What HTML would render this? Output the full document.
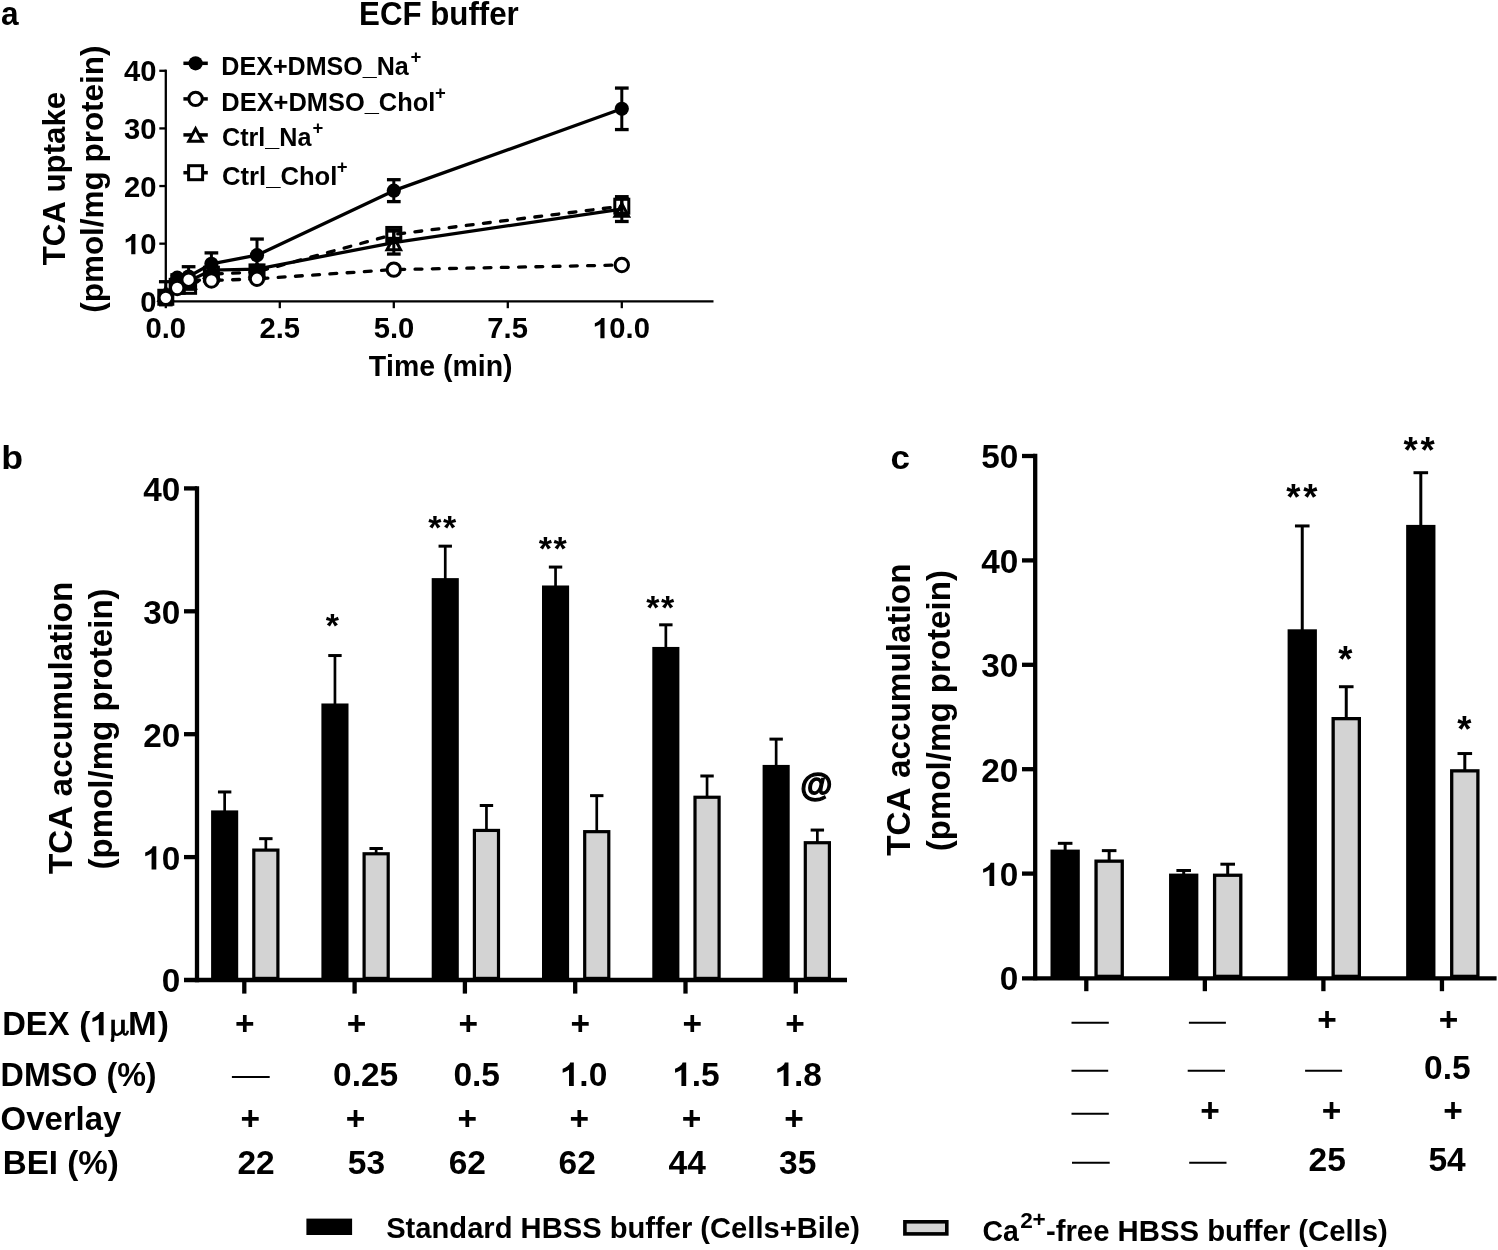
<!DOCTYPE html>
<html><head><meta charset="utf-8"><style>
html,body{margin:0;padding:0;background:#fff;}
body{width:1498px;height:1250px;overflow:hidden;}
svg{display:block;font-kerning:none;filter:blur(0.4px);}
text{font-kerning:none;}
</style></head><body>
<svg width="1498" height="1250" viewBox="0 0 1498 1250">
<rect width="1498" height="1250" fill="#fff"/>
<text transform="translate(1.08 24.60) scale(0.9300 1)" font-size="34.00" font-family='"Liberation Sans", sans-serif' font-weight="bold" fill="#000">a</text>
<text transform="translate(359.04 25.00) scale(0.9650 1)" font-size="32.40" font-family='"Liberation Sans", sans-serif' font-weight="bold" fill="#000">ECF buffer</text>
<line x1="165.80" y1="69.63" x2="165.80" y2="302.45" stroke="#000" stroke-width="2.30" stroke-linecap="butt"/>
<line x1="164.65" y1="301.30" x2="713.50" y2="301.30" stroke="#000" stroke-width="2.30" stroke-linecap="butt"/>
<line x1="159.30" y1="301.30" x2="165.80" y2="301.30" stroke="#000" stroke-width="2.30" stroke-linecap="butt"/>
<text transform="translate(140.23 311.94) scale(1.0000 1)" font-size="29.20" font-family='"Liberation Sans", sans-serif' font-weight="bold" fill="#000">0</text>
<line x1="159.30" y1="243.67" x2="165.80" y2="243.67" stroke="#000" stroke-width="2.30" stroke-linecap="butt"/>
<polygon points="135.41,254.31 135.41,233.93 132.26,233.93 131.64,235.33 129.83,237.09 127.79,238.40 125.69,239.28 125.69,242.75 128.08,241.82 129.83,240.94 131.23,240.07 131.23,254.31" fill="#000"/>
<text transform="translate(140.23 254.31) scale(1.0000 1)" font-size="29.20" font-family='"Liberation Sans", sans-serif' font-weight="bold" fill="#000">0</text>
<line x1="159.30" y1="186.04" x2="165.80" y2="186.04" stroke="#000" stroke-width="2.30" stroke-linecap="butt"/>
<text transform="translate(124.00 196.68) scale(1.0000 1)" font-size="29.20" font-family='"Liberation Sans", sans-serif' font-weight="bold" fill="#000">20</text>
<line x1="159.30" y1="128.41" x2="165.80" y2="128.41" stroke="#000" stroke-width="2.30" stroke-linecap="butt"/>
<text transform="translate(124.00 139.05) scale(1.0000 1)" font-size="29.20" font-family='"Liberation Sans", sans-serif' font-weight="bold" fill="#000">30</text>
<line x1="159.30" y1="70.78" x2="165.80" y2="70.78" stroke="#000" stroke-width="2.30" stroke-linecap="butt"/>
<text transform="translate(124.00 81.42) scale(1.0000 1)" font-size="29.20" font-family='"Liberation Sans", sans-serif' font-weight="bold" fill="#000">40</text>
<line x1="165.80" y1="301.30" x2="165.80" y2="308.20" stroke="#000" stroke-width="2.30" stroke-linecap="butt"/>
<text transform="translate(145.52 338.28) scale(1.0000 1)" font-size="29.20" font-family='"Liberation Sans", sans-serif' font-weight="bold" fill="#000">0.0</text>
<line x1="279.80" y1="301.30" x2="279.80" y2="308.20" stroke="#000" stroke-width="2.30" stroke-linecap="butt"/>
<text transform="translate(259.40 338.28) scale(1.0000 1)" font-size="29.20" font-family='"Liberation Sans", sans-serif' font-weight="bold" fill="#000">2.5</text>
<line x1="393.80" y1="301.30" x2="393.80" y2="308.20" stroke="#000" stroke-width="2.30" stroke-linecap="butt"/>
<text transform="translate(373.65 338.28) scale(1.0000 1)" font-size="29.20" font-family='"Liberation Sans", sans-serif' font-weight="bold" fill="#000">5.0</text>
<line x1="507.80" y1="301.30" x2="507.80" y2="308.20" stroke="#000" stroke-width="2.30" stroke-linecap="butt"/>
<text transform="translate(487.29 338.28) scale(1.0000 1)" font-size="29.20" font-family='"Liberation Sans", sans-serif' font-weight="bold" fill="#000">7.5</text>
<line x1="621.80" y1="301.30" x2="621.80" y2="308.20" stroke="#000" stroke-width="2.30" stroke-linecap="butt"/>
<polygon points="604.54,338.28 604.54,317.90 601.39,317.90 600.77,319.30 598.96,321.05 596.92,322.37 594.82,323.24 594.82,326.72 597.21,325.78 598.96,324.91 600.37,324.03 600.37,338.28" fill="#000"/>
<text transform="translate(609.36 338.28) scale(1.0000 1)" font-size="29.20" font-family='"Liberation Sans", sans-serif' font-weight="bold" fill="#000">0.0</text>
<text transform="translate(368.69 376.00) scale(0.9520 1)" font-size="29.90" font-family='"Liberation Sans", sans-serif' font-weight="bold" fill="#000">Time (min)</text>
<text transform="translate(65.20 265.34) rotate(-90) scale(1.0000 1)" font-size="31.24" font-family='"Liberation Sans", sans-serif' font-weight="bold">TCA uptake</text>
<text transform="translate(102.50 312.74) rotate(-90) scale(1.0000 1)" font-size="31.45" font-family='"Liberation Sans", sans-serif' font-weight="bold">(pmol/mg protein)</text>
<polyline points="165.80,295.54 177.20,277.67 188.60,276.52 211.40,263.84 257.00,255.20 393.80,190.65 621.80,108.82" fill="none" stroke="#000" stroke-width="3.30" stroke-linejoin="round"/>
<line x1="168.83" y1="295.24" x2="174.07" y2="290.74" stroke="#000" stroke-width="3.30" stroke-linecap="round"/>
<line x1="180.43" y1="285.68" x2="185.99" y2="281.60" stroke="#000" stroke-width="3.30" stroke-linecap="round"/>
<line x1="192.60" y1="279.84" x2="199.49" y2="280.10" stroke="#000" stroke-width="3.30" stroke-linecap="round"/>
<line x1="209.84" y1="280.49" x2="211.40" y2="280.55" stroke="#000" stroke-width="3.30" stroke-linecap="round"/>
<line x1="215.40" y1="280.40" x2="222.29" y2="280.14" stroke="#000" stroke-width="3.30" stroke-linecap="round"/>
<line x1="232.64" y1="279.75" x2="239.54" y2="279.49" stroke="#000" stroke-width="3.30" stroke-linecap="round"/>
<line x1="249.89" y1="279.09" x2="256.79" y2="278.83" stroke="#000" stroke-width="3.30" stroke-linecap="round"/>
<line x1="260.99" y1="278.56" x2="267.88" y2="278.09" stroke="#000" stroke-width="3.30" stroke-linecap="round"/>
<line x1="278.21" y1="277.39" x2="285.10" y2="276.93" stroke="#000" stroke-width="3.30" stroke-linecap="round"/>
<line x1="295.43" y1="276.23" x2="302.32" y2="275.77" stroke="#000" stroke-width="3.30" stroke-linecap="round"/>
<line x1="312.65" y1="275.07" x2="319.54" y2="274.61" stroke="#000" stroke-width="3.30" stroke-linecap="round"/>
<line x1="329.87" y1="273.91" x2="336.76" y2="273.45" stroke="#000" stroke-width="3.30" stroke-linecap="round"/>
<line x1="347.10" y1="272.75" x2="353.98" y2="272.29" stroke="#000" stroke-width="3.30" stroke-linecap="round"/>
<line x1="364.32" y1="271.59" x2="371.20" y2="271.13" stroke="#000" stroke-width="3.30" stroke-linecap="round"/>
<line x1="381.54" y1="270.43" x2="388.42" y2="269.97" stroke="#000" stroke-width="3.30" stroke-linecap="round"/>
<line x1="397.80" y1="269.52" x2="404.70" y2="269.38" stroke="#000" stroke-width="3.30" stroke-linecap="round"/>
<line x1="415.06" y1="269.17" x2="421.95" y2="269.03" stroke="#000" stroke-width="3.30" stroke-linecap="round"/>
<line x1="432.31" y1="268.82" x2="439.21" y2="268.69" stroke="#000" stroke-width="3.30" stroke-linecap="round"/>
<line x1="449.57" y1="268.48" x2="456.47" y2="268.34" stroke="#000" stroke-width="3.30" stroke-linecap="round"/>
<line x1="466.83" y1="268.13" x2="473.72" y2="267.99" stroke="#000" stroke-width="3.30" stroke-linecap="round"/>
<line x1="484.08" y1="267.78" x2="490.98" y2="267.64" stroke="#000" stroke-width="3.30" stroke-linecap="round"/>
<line x1="501.34" y1="267.43" x2="508.24" y2="267.29" stroke="#000" stroke-width="3.30" stroke-linecap="round"/>
<line x1="518.59" y1="267.08" x2="525.49" y2="266.94" stroke="#000" stroke-width="3.30" stroke-linecap="round"/>
<line x1="535.85" y1="266.73" x2="542.75" y2="266.59" stroke="#000" stroke-width="3.30" stroke-linecap="round"/>
<line x1="553.11" y1="266.38" x2="560.01" y2="266.24" stroke="#000" stroke-width="3.30" stroke-linecap="round"/>
<line x1="570.36" y1="266.03" x2="577.26" y2="265.89" stroke="#000" stroke-width="3.30" stroke-linecap="round"/>
<line x1="587.62" y1="265.68" x2="594.52" y2="265.54" stroke="#000" stroke-width="3.30" stroke-linecap="round"/>
<line x1="604.88" y1="265.34" x2="611.78" y2="265.20" stroke="#000" stroke-width="3.30" stroke-linecap="round"/>
<polyline points="165.80,293.23 177.20,285.16 188.60,281.13 211.40,270.18 257.00,269.03 393.80,242.52 621.80,209.09" fill="none" stroke="#000" stroke-width="3.30" stroke-linejoin="round"/>
<line x1="168.68" y1="294.50" x2="173.66" y2="289.72" stroke="#000" stroke-width="3.30" stroke-linecap="round"/>
<line x1="181.20" y1="286.32" x2="188.10" y2="286.32" stroke="#000" stroke-width="3.30" stroke-linecap="round"/>
<line x1="192.13" y1="284.44" x2="198.23" y2="281.21" stroke="#000" stroke-width="3.30" stroke-linecap="round"/>
<line x1="207.38" y1="276.35" x2="211.40" y2="274.21" stroke="#000" stroke-width="3.30" stroke-linecap="round"/>
<line x1="215.39" y1="274.01" x2="222.29" y2="273.66" stroke="#000" stroke-width="3.30" stroke-linecap="round"/>
<line x1="232.63" y1="273.14" x2="239.52" y2="272.79" stroke="#000" stroke-width="3.30" stroke-linecap="round"/>
<line x1="249.87" y1="272.27" x2="256.76" y2="271.92" stroke="#000" stroke-width="3.30" stroke-linecap="round"/>
<line x1="260.86" y1="270.85" x2="267.51" y2="269.03" stroke="#000" stroke-width="3.30" stroke-linecap="round"/>
<line x1="277.51" y1="266.29" x2="284.16" y2="264.47" stroke="#000" stroke-width="3.30" stroke-linecap="round"/>
<line x1="294.15" y1="261.74" x2="300.81" y2="259.91" stroke="#000" stroke-width="3.30" stroke-linecap="round"/>
<line x1="310.80" y1="257.18" x2="317.45" y2="255.35" stroke="#000" stroke-width="3.30" stroke-linecap="round"/>
<line x1="327.45" y1="252.62" x2="334.10" y2="250.80" stroke="#000" stroke-width="3.30" stroke-linecap="round"/>
<line x1="344.09" y1="248.06" x2="350.75" y2="246.24" stroke="#000" stroke-width="3.30" stroke-linecap="round"/>
<line x1="360.74" y1="243.50" x2="367.40" y2="241.68" stroke="#000" stroke-width="3.30" stroke-linecap="round"/>
<line x1="377.39" y1="238.94" x2="384.04" y2="237.12" stroke="#000" stroke-width="3.30" stroke-linecap="round"/>
<line x1="397.77" y1="233.96" x2="404.62" y2="233.11" stroke="#000" stroke-width="3.30" stroke-linecap="round"/>
<line x1="414.90" y1="231.84" x2="421.75" y2="230.99" stroke="#000" stroke-width="3.30" stroke-linecap="round"/>
<line x1="432.03" y1="229.71" x2="438.88" y2="228.87" stroke="#000" stroke-width="3.30" stroke-linecap="round"/>
<line x1="449.16" y1="227.59" x2="456.00" y2="226.74" stroke="#000" stroke-width="3.30" stroke-linecap="round"/>
<line x1="466.29" y1="225.47" x2="473.13" y2="224.62" stroke="#000" stroke-width="3.30" stroke-linecap="round"/>
<line x1="483.42" y1="223.35" x2="490.26" y2="222.50" stroke="#000" stroke-width="3.30" stroke-linecap="round"/>
<line x1="500.54" y1="221.23" x2="507.39" y2="220.38" stroke="#000" stroke-width="3.30" stroke-linecap="round"/>
<line x1="517.67" y1="219.11" x2="524.52" y2="218.26" stroke="#000" stroke-width="3.30" stroke-linecap="round"/>
<line x1="534.80" y1="216.99" x2="541.65" y2="216.14" stroke="#000" stroke-width="3.30" stroke-linecap="round"/>
<line x1="551.93" y1="214.86" x2="558.78" y2="214.02" stroke="#000" stroke-width="3.30" stroke-linecap="round"/>
<line x1="569.06" y1="212.74" x2="575.91" y2="211.89" stroke="#000" stroke-width="3.30" stroke-linecap="round"/>
<line x1="586.19" y1="210.62" x2="593.04" y2="209.77" stroke="#000" stroke-width="3.30" stroke-linecap="round"/>
<line x1="603.32" y1="208.50" x2="610.17" y2="207.65" stroke="#000" stroke-width="3.30" stroke-linecap="round"/>
<line x1="620.45" y1="206.38" x2="621.80" y2="206.21" stroke="#000" stroke-width="3.30" stroke-linecap="round"/>
<line x1="165.80" y1="292.66" x2="165.80" y2="298.42" stroke="#000" stroke-width="3.00" stroke-linecap="butt"/>
<line x1="158.95" y1="292.66" x2="172.65" y2="292.66" stroke="#000" stroke-width="3.30" stroke-linecap="butt"/>
<line x1="158.95" y1="298.42" x2="172.65" y2="298.42" stroke="#000" stroke-width="3.30" stroke-linecap="butt"/>
<line x1="177.20" y1="274.79" x2="177.20" y2="280.55" stroke="#000" stroke-width="3.00" stroke-linecap="butt"/>
<line x1="170.35" y1="274.79" x2="184.05" y2="274.79" stroke="#000" stroke-width="3.30" stroke-linecap="butt"/>
<line x1="170.35" y1="280.55" x2="184.05" y2="280.55" stroke="#000" stroke-width="3.30" stroke-linecap="butt"/>
<line x1="188.60" y1="266.72" x2="188.60" y2="286.32" stroke="#000" stroke-width="3.00" stroke-linecap="butt"/>
<line x1="181.75" y1="266.72" x2="195.45" y2="266.72" stroke="#000" stroke-width="3.30" stroke-linecap="butt"/>
<line x1="181.75" y1="286.32" x2="195.45" y2="286.32" stroke="#000" stroke-width="3.30" stroke-linecap="butt"/>
<line x1="211.40" y1="252.89" x2="211.40" y2="274.79" stroke="#000" stroke-width="3.00" stroke-linecap="butt"/>
<line x1="204.55" y1="252.89" x2="218.25" y2="252.89" stroke="#000" stroke-width="3.30" stroke-linecap="butt"/>
<line x1="204.55" y1="274.79" x2="218.25" y2="274.79" stroke="#000" stroke-width="3.30" stroke-linecap="butt"/>
<line x1="257.00" y1="239.06" x2="257.00" y2="271.33" stroke="#000" stroke-width="3.00" stroke-linecap="butt"/>
<line x1="250.15" y1="239.06" x2="263.85" y2="239.06" stroke="#000" stroke-width="3.30" stroke-linecap="butt"/>
<line x1="250.15" y1="271.33" x2="263.85" y2="271.33" stroke="#000" stroke-width="3.30" stroke-linecap="butt"/>
<line x1="393.80" y1="179.70" x2="393.80" y2="201.60" stroke="#000" stroke-width="3.00" stroke-linecap="butt"/>
<line x1="386.95" y1="179.70" x2="400.65" y2="179.70" stroke="#000" stroke-width="3.30" stroke-linecap="butt"/>
<line x1="386.95" y1="201.60" x2="400.65" y2="201.60" stroke="#000" stroke-width="3.30" stroke-linecap="butt"/>
<line x1="621.80" y1="88.07" x2="621.80" y2="129.56" stroke="#000" stroke-width="3.00" stroke-linecap="butt"/>
<line x1="614.95" y1="88.07" x2="628.65" y2="88.07" stroke="#000" stroke-width="3.30" stroke-linecap="butt"/>
<line x1="614.95" y1="129.56" x2="628.65" y2="129.56" stroke="#000" stroke-width="3.30" stroke-linecap="butt"/>
<line x1="165.80" y1="296.11" x2="165.80" y2="299.57" stroke="#000" stroke-width="3.00" stroke-linecap="butt"/>
<line x1="158.95" y1="296.11" x2="172.65" y2="296.11" stroke="#000" stroke-width="3.30" stroke-linecap="butt"/>
<line x1="158.95" y1="299.57" x2="172.65" y2="299.57" stroke="#000" stroke-width="3.30" stroke-linecap="butt"/>
<line x1="177.20" y1="286.32" x2="177.20" y2="289.77" stroke="#000" stroke-width="3.00" stroke-linecap="butt"/>
<line x1="170.35" y1="286.32" x2="184.05" y2="286.32" stroke="#000" stroke-width="3.30" stroke-linecap="butt"/>
<line x1="170.35" y1="289.77" x2="184.05" y2="289.77" stroke="#000" stroke-width="3.30" stroke-linecap="butt"/>
<line x1="188.60" y1="277.96" x2="188.60" y2="281.42" stroke="#000" stroke-width="3.00" stroke-linecap="butt"/>
<line x1="181.75" y1="277.96" x2="195.45" y2="277.96" stroke="#000" stroke-width="3.30" stroke-linecap="butt"/>
<line x1="181.75" y1="281.42" x2="195.45" y2="281.42" stroke="#000" stroke-width="3.30" stroke-linecap="butt"/>
<line x1="211.40" y1="278.82" x2="211.40" y2="282.28" stroke="#000" stroke-width="3.00" stroke-linecap="butt"/>
<line x1="204.55" y1="278.82" x2="218.25" y2="278.82" stroke="#000" stroke-width="3.30" stroke-linecap="butt"/>
<line x1="204.55" y1="282.28" x2="218.25" y2="282.28" stroke="#000" stroke-width="3.30" stroke-linecap="butt"/>
<line x1="257.00" y1="277.10" x2="257.00" y2="280.55" stroke="#000" stroke-width="3.00" stroke-linecap="butt"/>
<line x1="250.15" y1="277.10" x2="263.85" y2="277.10" stroke="#000" stroke-width="3.30" stroke-linecap="butt"/>
<line x1="250.15" y1="280.55" x2="263.85" y2="280.55" stroke="#000" stroke-width="3.30" stroke-linecap="butt"/>
<line x1="393.80" y1="267.87" x2="393.80" y2="271.33" stroke="#000" stroke-width="3.00" stroke-linecap="butt"/>
<line x1="386.95" y1="267.87" x2="400.65" y2="267.87" stroke="#000" stroke-width="3.30" stroke-linecap="butt"/>
<line x1="386.95" y1="271.33" x2="400.65" y2="271.33" stroke="#000" stroke-width="3.30" stroke-linecap="butt"/>
<line x1="621.80" y1="263.26" x2="621.80" y2="266.72" stroke="#000" stroke-width="3.00" stroke-linecap="butt"/>
<line x1="614.95" y1="263.26" x2="628.65" y2="263.26" stroke="#000" stroke-width="3.30" stroke-linecap="butt"/>
<line x1="614.95" y1="266.72" x2="628.65" y2="266.72" stroke="#000" stroke-width="3.30" stroke-linecap="butt"/>
<line x1="165.80" y1="281.71" x2="165.80" y2="304.76" stroke="#000" stroke-width="3.00" stroke-linecap="butt"/>
<line x1="158.95" y1="281.71" x2="172.65" y2="281.71" stroke="#000" stroke-width="3.30" stroke-linecap="butt"/>
<line x1="158.95" y1="304.76" x2="172.65" y2="304.76" stroke="#000" stroke-width="3.30" stroke-linecap="butt"/>
<line x1="177.20" y1="282.28" x2="177.20" y2="288.05" stroke="#000" stroke-width="3.00" stroke-linecap="butt"/>
<line x1="170.35" y1="282.28" x2="184.05" y2="282.28" stroke="#000" stroke-width="3.30" stroke-linecap="butt"/>
<line x1="170.35" y1="288.05" x2="184.05" y2="288.05" stroke="#000" stroke-width="3.30" stroke-linecap="butt"/>
<line x1="188.60" y1="277.67" x2="188.60" y2="284.59" stroke="#000" stroke-width="3.00" stroke-linecap="butt"/>
<line x1="181.75" y1="277.67" x2="195.45" y2="277.67" stroke="#000" stroke-width="3.30" stroke-linecap="butt"/>
<line x1="181.75" y1="284.59" x2="195.45" y2="284.59" stroke="#000" stroke-width="3.30" stroke-linecap="butt"/>
<line x1="211.40" y1="266.72" x2="211.40" y2="273.64" stroke="#000" stroke-width="3.00" stroke-linecap="butt"/>
<line x1="204.55" y1="266.72" x2="218.25" y2="266.72" stroke="#000" stroke-width="3.30" stroke-linecap="butt"/>
<line x1="204.55" y1="273.64" x2="218.25" y2="273.64" stroke="#000" stroke-width="3.30" stroke-linecap="butt"/>
<line x1="257.00" y1="265.57" x2="257.00" y2="272.49" stroke="#000" stroke-width="3.00" stroke-linecap="butt"/>
<line x1="250.15" y1="265.57" x2="263.85" y2="265.57" stroke="#000" stroke-width="3.30" stroke-linecap="butt"/>
<line x1="250.15" y1="272.49" x2="263.85" y2="272.49" stroke="#000" stroke-width="3.30" stroke-linecap="butt"/>
<line x1="393.80" y1="230.99" x2="393.80" y2="254.04" stroke="#000" stroke-width="3.00" stroke-linecap="butt"/>
<line x1="386.95" y1="230.99" x2="400.65" y2="230.99" stroke="#000" stroke-width="3.30" stroke-linecap="butt"/>
<line x1="386.95" y1="254.04" x2="400.65" y2="254.04" stroke="#000" stroke-width="3.30" stroke-linecap="butt"/>
<line x1="621.80" y1="196.70" x2="621.80" y2="221.48" stroke="#000" stroke-width="3.00" stroke-linecap="butt"/>
<line x1="614.95" y1="196.70" x2="628.65" y2="196.70" stroke="#000" stroke-width="3.30" stroke-linecap="butt"/>
<line x1="614.95" y1="221.48" x2="628.65" y2="221.48" stroke="#000" stroke-width="3.30" stroke-linecap="butt"/>
<line x1="165.80" y1="295.54" x2="165.80" y2="298.99" stroke="#000" stroke-width="3.00" stroke-linecap="butt"/>
<line x1="158.95" y1="295.54" x2="172.65" y2="295.54" stroke="#000" stroke-width="3.30" stroke-linecap="butt"/>
<line x1="158.95" y1="298.99" x2="172.65" y2="298.99" stroke="#000" stroke-width="3.30" stroke-linecap="butt"/>
<line x1="177.20" y1="283.43" x2="177.20" y2="289.20" stroke="#000" stroke-width="3.00" stroke-linecap="butt"/>
<line x1="170.35" y1="283.43" x2="184.05" y2="283.43" stroke="#000" stroke-width="3.30" stroke-linecap="butt"/>
<line x1="170.35" y1="289.20" x2="184.05" y2="289.20" stroke="#000" stroke-width="3.30" stroke-linecap="butt"/>
<line x1="188.60" y1="283.43" x2="188.60" y2="289.20" stroke="#000" stroke-width="3.00" stroke-linecap="butt"/>
<line x1="181.75" y1="283.43" x2="195.45" y2="283.43" stroke="#000" stroke-width="3.30" stroke-linecap="butt"/>
<line x1="181.75" y1="289.20" x2="195.45" y2="289.20" stroke="#000" stroke-width="3.30" stroke-linecap="butt"/>
<line x1="211.40" y1="270.76" x2="211.40" y2="277.67" stroke="#000" stroke-width="3.00" stroke-linecap="butt"/>
<line x1="204.55" y1="270.76" x2="218.25" y2="270.76" stroke="#000" stroke-width="3.30" stroke-linecap="butt"/>
<line x1="204.55" y1="277.67" x2="218.25" y2="277.67" stroke="#000" stroke-width="3.30" stroke-linecap="butt"/>
<line x1="257.00" y1="267.30" x2="257.00" y2="276.52" stroke="#000" stroke-width="3.00" stroke-linecap="butt"/>
<line x1="250.15" y1="267.30" x2="263.85" y2="267.30" stroke="#000" stroke-width="3.30" stroke-linecap="butt"/>
<line x1="250.15" y1="276.52" x2="263.85" y2="276.52" stroke="#000" stroke-width="3.30" stroke-linecap="butt"/>
<line x1="393.80" y1="230.42" x2="393.80" y2="238.48" stroke="#000" stroke-width="3.00" stroke-linecap="butt"/>
<line x1="386.95" y1="230.42" x2="400.65" y2="230.42" stroke="#000" stroke-width="3.30" stroke-linecap="butt"/>
<line x1="386.95" y1="238.48" x2="400.65" y2="238.48" stroke="#000" stroke-width="3.30" stroke-linecap="butt"/>
<line x1="621.80" y1="198.72" x2="621.80" y2="213.70" stroke="#000" stroke-width="3.00" stroke-linecap="butt"/>
<line x1="614.95" y1="198.72" x2="628.65" y2="198.72" stroke="#000" stroke-width="3.30" stroke-linecap="butt"/>
<line x1="614.95" y1="213.70" x2="628.65" y2="213.70" stroke="#000" stroke-width="3.30" stroke-linecap="butt"/>
<circle cx="165.80" cy="295.54" r="7.1" fill="#000"/>
<circle cx="177.20" cy="277.67" r="7.1" fill="#000"/>
<circle cx="188.60" cy="276.52" r="7.1" fill="#000"/>
<circle cx="211.40" cy="263.84" r="7.1" fill="#000"/>
<circle cx="257.00" cy="255.20" r="7.1" fill="#000"/>
<circle cx="393.80" cy="190.65" r="7.1" fill="#000"/>
<circle cx="621.80" cy="108.82" r="7.1" fill="#000"/>
<polygon points="165.80,287.73 172.60,300.43 159.00,300.43" fill="none" stroke="#000" stroke-width="3.00" stroke-linejoin="miter"/>
<polygon points="177.20,279.66 184.00,292.36 170.40,292.36" fill="none" stroke="#000" stroke-width="3.00" stroke-linejoin="miter"/>
<polygon points="188.60,275.63 195.40,288.33 181.80,288.33" fill="none" stroke="#000" stroke-width="3.00" stroke-linejoin="miter"/>
<polygon points="211.40,264.68 218.20,277.38 204.60,277.38" fill="none" stroke="#000" stroke-width="3.00" stroke-linejoin="miter"/>
<polygon points="257.00,263.53 263.80,276.23 250.20,276.23" fill="none" stroke="#000" stroke-width="3.00" stroke-linejoin="miter"/>
<polygon points="393.80,237.02 400.60,249.72 387.00,249.72" fill="none" stroke="#000" stroke-width="3.00" stroke-linejoin="miter"/>
<polygon points="621.80,203.59 628.60,216.29 615.00,216.29" fill="none" stroke="#000" stroke-width="3.00" stroke-linejoin="miter"/>
<rect x="158.80" y="290.27" width="14.00" height="14.00" fill="none" stroke="#000" stroke-width="3.00"/>
<rect x="170.20" y="279.32" width="14.00" height="14.00" fill="none" stroke="#000" stroke-width="3.00"/>
<rect x="181.60" y="279.32" width="14.00" height="14.00" fill="none" stroke="#000" stroke-width="3.00"/>
<rect x="204.40" y="267.21" width="14.00" height="14.00" fill="none" stroke="#000" stroke-width="3.00"/>
<rect x="250.00" y="264.91" width="14.00" height="14.00" fill="none" stroke="#000" stroke-width="3.00"/>
<rect x="386.80" y="227.45" width="14.00" height="14.00" fill="none" stroke="#000" stroke-width="3.00"/>
<rect x="614.80" y="199.21" width="14.00" height="14.00" fill="none" stroke="#000" stroke-width="3.00"/>
<circle cx="165.80" cy="297.84" r="6.70" fill="#fff" stroke="#000" stroke-width="3.00"/>
<circle cx="177.20" cy="288.05" r="6.70" fill="#fff" stroke="#000" stroke-width="3.00"/>
<circle cx="188.60" cy="279.69" r="6.70" fill="#fff" stroke="#000" stroke-width="3.00"/>
<circle cx="211.40" cy="280.55" r="6.70" fill="#fff" stroke="#000" stroke-width="3.00"/>
<circle cx="257.00" cy="278.82" r="6.70" fill="#fff" stroke="#000" stroke-width="3.00"/>
<circle cx="393.80" cy="269.60" r="6.70" fill="#fff" stroke="#000" stroke-width="3.00"/>
<circle cx="621.80" cy="264.99" r="6.70" fill="#fff" stroke="#000" stroke-width="3.00"/>
<line x1="183.40" y1="63.30" x2="207.80" y2="63.30" stroke="#000" stroke-width="3.50" stroke-linecap="butt"/>
<circle cx="195.60" cy="63.30" r="7.1" fill="#000"/>
<text transform="translate(221.34 75.40) scale(0.9540 1)" font-size="26.30" font-family='"Liberation Sans", sans-serif' font-weight="bold" fill="#000">DEX+DMSO_Na</text>
<text transform="translate(410.42 63.14) scale(1.0000 1)" font-size="18.50" font-family='"Liberation Sans", sans-serif' font-weight="bold" fill="#000">+</text>
<line x1="183.40" y1="98.90" x2="207.80" y2="98.90" stroke="#000" stroke-width="3.50" stroke-linecap="butt"/>
<circle cx="195.60" cy="98.90" r="6.70" fill="#fff" stroke="#000" stroke-width="3.00"/>
<text transform="translate(221.32 111.00) scale(0.9670 1)" font-size="26.30" font-family='"Liberation Sans", sans-serif' font-weight="bold" fill="#000">DEX+DMSO_Chol</text>
<text transform="translate(435.02 98.54) scale(1.0000 1)" font-size="18.50" font-family='"Liberation Sans", sans-serif' font-weight="bold" fill="#000">+</text>
<line x1="183.40" y1="134.90" x2="207.80" y2="134.90" stroke="#000" stroke-width="3.50" stroke-linecap="butt"/>
<polygon points="195.60,128.60 202.40,141.30 188.80,141.30" fill="#fff" stroke="#000" stroke-width="3.00" stroke-linejoin="miter"/>
<text transform="translate(221.97 146.30) scale(0.9570 1)" font-size="26.30" font-family='"Liberation Sans", sans-serif' font-weight="bold" fill="#000">Ctrl_Na</text>
<text transform="translate(312.52 134.34) scale(1.0000 1)" font-size="18.50" font-family='"Liberation Sans", sans-serif' font-weight="bold" fill="#000">+</text>
<line x1="183.40" y1="172.70" x2="207.80" y2="172.70" stroke="#000" stroke-width="3.50" stroke-linecap="butt"/>
<rect x="188.60" y="165.70" width="14.00" height="14.00" fill="#fff" stroke="#000" stroke-width="3.00"/>
<text transform="translate(221.95 184.60) scale(0.9760 1)" font-size="26.30" font-family='"Liberation Sans", sans-serif' font-weight="bold" fill="#000">Ctrl_Chol</text>
<text transform="translate(336.72 172.74) scale(1.0000 1)" font-size="18.50" font-family='"Liberation Sans", sans-serif' font-weight="bold" fill="#000">+</text>
<text transform="translate(1.18 469.00) scale(1.0600 1)" font-size="33.70" font-family='"Liberation Sans", sans-serif' font-weight="bold" fill="#000">b</text>
<line x1="197.00" y1="486.25" x2="197.00" y2="982.15" stroke="#000" stroke-width="4.30" stroke-linecap="butt"/>
<line x1="184.00" y1="980.00" x2="847.00" y2="980.00" stroke="#000" stroke-width="4.30" stroke-linecap="butt"/>
<line x1="184.00" y1="857.10" x2="197.00" y2="857.10" stroke="#000" stroke-width="4.30" stroke-linecap="butt"/>
<line x1="184.00" y1="734.20" x2="197.00" y2="734.20" stroke="#000" stroke-width="4.30" stroke-linecap="butt"/>
<line x1="184.00" y1="611.30" x2="197.00" y2="611.30" stroke="#000" stroke-width="4.30" stroke-linecap="butt"/>
<line x1="184.00" y1="488.40" x2="197.00" y2="488.40" stroke="#000" stroke-width="4.30" stroke-linecap="butt"/>
<text transform="translate(161.82 992.46) scale(1.0000 1)" font-size="33.30" font-family='"Liberation Sans", sans-serif' font-weight="bold" fill="#000">0</text>
<polygon points="156.32,869.56 156.32,846.31 152.72,846.31 152.02,847.91 149.96,849.91 147.63,851.41 145.23,852.41 145.23,856.37 147.96,855.30 149.96,854.30 151.56,853.30 151.56,869.56" fill="#000"/>
<text transform="translate(161.82 869.56) scale(1.0000 1)" font-size="33.30" font-family='"Liberation Sans", sans-serif' font-weight="bold" fill="#000">0</text>
<text transform="translate(143.30 746.66) scale(1.0000 1)" font-size="33.30" font-family='"Liberation Sans", sans-serif' font-weight="bold" fill="#000">20</text>
<text transform="translate(143.30 623.76) scale(1.0000 1)" font-size="33.30" font-family='"Liberation Sans", sans-serif' font-weight="bold" fill="#000">30</text>
<text transform="translate(143.30 500.86) scale(1.0000 1)" font-size="33.30" font-family='"Liberation Sans", sans-serif' font-weight="bold" fill="#000">40</text>
<line x1="244.30" y1="980.00" x2="244.30" y2="993.60" stroke="#000" stroke-width="4.30" stroke-linecap="butt"/>
<line x1="354.60" y1="980.00" x2="354.60" y2="993.60" stroke="#000" stroke-width="4.30" stroke-linecap="butt"/>
<line x1="464.90" y1="980.00" x2="464.90" y2="993.60" stroke="#000" stroke-width="4.30" stroke-linecap="butt"/>
<line x1="575.20" y1="980.00" x2="575.20" y2="993.60" stroke="#000" stroke-width="4.30" stroke-linecap="butt"/>
<line x1="685.50" y1="980.00" x2="685.50" y2="993.60" stroke="#000" stroke-width="4.30" stroke-linecap="butt"/>
<line x1="795.80" y1="980.00" x2="795.80" y2="993.60" stroke="#000" stroke-width="4.30" stroke-linecap="butt"/>
<line x1="224.65" y1="791.96" x2="224.65" y2="811.40" stroke="#000" stroke-width="2.70" stroke-linecap="butt"/>
<line x1="217.95" y1="791.96" x2="231.35" y2="791.96" stroke="#000" stroke-width="3.00" stroke-linecap="butt"/>
<rect x="211.10" y="810.40" width="27.10" height="169.60" fill="#000"/>
<line x1="334.95" y1="655.54" x2="334.95" y2="704.48" stroke="#000" stroke-width="2.70" stroke-linecap="butt"/>
<line x1="328.25" y1="655.54" x2="341.65" y2="655.54" stroke="#000" stroke-width="3.00" stroke-linecap="butt"/>
<rect x="321.40" y="703.48" width="27.10" height="276.52" fill="#000"/>
<line x1="445.25" y1="546.16" x2="445.25" y2="579.12" stroke="#000" stroke-width="2.70" stroke-linecap="butt"/>
<line x1="438.55" y1="546.16" x2="451.95" y2="546.16" stroke="#000" stroke-width="3.00" stroke-linecap="butt"/>
<rect x="431.70" y="578.12" width="27.10" height="401.88" fill="#000"/>
<line x1="555.55" y1="567.06" x2="555.55" y2="586.49" stroke="#000" stroke-width="2.70" stroke-linecap="butt"/>
<line x1="548.85" y1="567.06" x2="562.25" y2="567.06" stroke="#000" stroke-width="3.00" stroke-linecap="butt"/>
<rect x="542.00" y="585.49" width="27.10" height="394.51" fill="#000"/>
<line x1="665.85" y1="624.82" x2="665.85" y2="647.94" stroke="#000" stroke-width="2.70" stroke-linecap="butt"/>
<line x1="659.15" y1="624.82" x2="672.55" y2="624.82" stroke="#000" stroke-width="3.00" stroke-linecap="butt"/>
<rect x="652.30" y="646.94" width="27.10" height="333.06" fill="#000"/>
<line x1="776.15" y1="739.12" x2="776.15" y2="765.92" stroke="#000" stroke-width="2.70" stroke-linecap="butt"/>
<line x1="769.45" y1="739.12" x2="782.85" y2="739.12" stroke="#000" stroke-width="3.00" stroke-linecap="butt"/>
<rect x="762.60" y="764.92" width="27.10" height="215.08" fill="#000"/>
<line x1="265.85" y1="838.66" x2="265.85" y2="849.50" stroke="#000" stroke-width="2.70" stroke-linecap="butt"/>
<line x1="259.15" y1="838.66" x2="272.55" y2="838.66" stroke="#000" stroke-width="3.00" stroke-linecap="butt"/>
<rect x="253.80" y="850.10" width="24.10" height="128.30" fill="#d3d3d3" stroke="#000" stroke-width="3.20"/>
<line x1="376.15" y1="848.50" x2="376.15" y2="853.18" stroke="#000" stroke-width="2.70" stroke-linecap="butt"/>
<line x1="369.45" y1="848.50" x2="382.85" y2="848.50" stroke="#000" stroke-width="3.00" stroke-linecap="butt"/>
<rect x="364.10" y="853.78" width="24.10" height="124.62" fill="#d3d3d3" stroke="#000" stroke-width="3.20"/>
<line x1="486.45" y1="805.48" x2="486.45" y2="829.83" stroke="#000" stroke-width="2.70" stroke-linecap="butt"/>
<line x1="479.75" y1="805.48" x2="493.15" y2="805.48" stroke="#000" stroke-width="3.00" stroke-linecap="butt"/>
<rect x="474.40" y="830.43" width="24.10" height="147.97" fill="#d3d3d3" stroke="#000" stroke-width="3.20"/>
<line x1="596.75" y1="795.65" x2="596.75" y2="831.06" stroke="#000" stroke-width="2.70" stroke-linecap="butt"/>
<line x1="590.05" y1="795.65" x2="603.45" y2="795.65" stroke="#000" stroke-width="3.00" stroke-linecap="butt"/>
<rect x="584.70" y="831.66" width="24.10" height="146.74" fill="#d3d3d3" stroke="#000" stroke-width="3.20"/>
<line x1="707.05" y1="775.99" x2="707.05" y2="796.65" stroke="#000" stroke-width="2.70" stroke-linecap="butt"/>
<line x1="700.35" y1="775.99" x2="713.75" y2="775.99" stroke="#000" stroke-width="3.00" stroke-linecap="butt"/>
<rect x="695.00" y="797.25" width="24.10" height="181.15" fill="#d3d3d3" stroke="#000" stroke-width="3.20"/>
<line x1="817.35" y1="830.06" x2="817.35" y2="842.12" stroke="#000" stroke-width="2.70" stroke-linecap="butt"/>
<line x1="810.65" y1="830.06" x2="824.05" y2="830.06" stroke="#000" stroke-width="3.00" stroke-linecap="butt"/>
<rect x="805.30" y="842.72" width="24.10" height="135.68" fill="#d3d3d3" stroke="#000" stroke-width="3.20"/>
<text transform="translate(325.85 636.74) scale(1.0000 1)" font-size="34.00" font-family='"Liberation Sans", sans-serif' font-weight="bold" fill="#000">*</text>
<text transform="translate(428.30 539.14) scale(1.0000 1)" font-size="34.00" font-family='"Liberation Sans", sans-serif' font-weight="bold" fill="#000">*</text>
<text transform="translate(443.00 539.14) scale(1.0000 1)" font-size="34.00" font-family='"Liberation Sans", sans-serif' font-weight="bold" fill="#000">*</text>
<text transform="translate(538.70 559.94) scale(1.0000 1)" font-size="34.00" font-family='"Liberation Sans", sans-serif' font-weight="bold" fill="#000">*</text>
<text transform="translate(553.40 559.94) scale(1.0000 1)" font-size="34.00" font-family='"Liberation Sans", sans-serif' font-weight="bold" fill="#000">*</text>
<text transform="translate(646.30 618.54) scale(1.0000 1)" font-size="34.00" font-family='"Liberation Sans", sans-serif' font-weight="bold" fill="#000">*</text>
<text transform="translate(661.00 618.54) scale(1.0000 1)" font-size="34.00" font-family='"Liberation Sans", sans-serif' font-weight="bold" fill="#000">*</text>
<text transform="translate(800.33 795.50) scale(1.0000 1)" font-size="33.00" font-family='"Liberation Sans", sans-serif' font-weight="bold" fill="#000" stroke="#000" stroke-width="1.3">@</text>
<text transform="translate(72.00 874.07) rotate(-90) scale(1.0000 1)" font-size="33.30" font-family='"Liberation Sans", sans-serif' font-weight="bold">TCA accumulation</text>
<text transform="translate(111.50 869.52) rotate(-90) scale(1.0000 1)" font-size="33.10" font-family='"Liberation Sans", sans-serif' font-weight="bold">(pmol/mg protein)</text>
<text transform="translate(890.43 469.20) scale(1.0300 1)" font-size="34.00" font-family='"Liberation Sans", sans-serif' font-weight="bold" fill="#000">c</text>
<line x1="1035.20" y1="453.85" x2="1035.20" y2="980.15" stroke="#000" stroke-width="4.30" stroke-linecap="butt"/>
<line x1="1022.00" y1="978.30" x2="1496.60" y2="978.30" stroke="#000" stroke-width="4.30" stroke-linecap="butt"/>
<line x1="1022.00" y1="873.60" x2="1035.20" y2="873.60" stroke="#000" stroke-width="4.30" stroke-linecap="butt"/>
<line x1="1022.00" y1="769.20" x2="1035.20" y2="769.20" stroke="#000" stroke-width="4.30" stroke-linecap="butt"/>
<line x1="1022.00" y1="664.80" x2="1035.20" y2="664.80" stroke="#000" stroke-width="4.30" stroke-linecap="butt"/>
<line x1="1022.00" y1="560.40" x2="1035.20" y2="560.40" stroke="#000" stroke-width="4.30" stroke-linecap="butt"/>
<line x1="1022.00" y1="456.00" x2="1035.20" y2="456.00" stroke="#000" stroke-width="4.30" stroke-linecap="butt"/>
<text transform="translate(999.72 990.46) scale(1.0000 1)" font-size="33.30" font-family='"Liberation Sans", sans-serif' font-weight="bold" fill="#000">0</text>
<polygon points="994.22,886.06 994.22,862.81 990.62,862.81 989.92,864.41 987.86,866.41 985.53,867.91 983.13,868.91 983.13,872.87 985.86,871.80 987.86,870.80 989.46,869.80 989.46,886.06" fill="#000"/>
<text transform="translate(999.72 886.06) scale(1.0000 1)" font-size="33.30" font-family='"Liberation Sans", sans-serif' font-weight="bold" fill="#000">0</text>
<text transform="translate(981.20 781.66) scale(1.0000 1)" font-size="33.30" font-family='"Liberation Sans", sans-serif' font-weight="bold" fill="#000">20</text>
<text transform="translate(981.20 677.26) scale(1.0000 1)" font-size="33.30" font-family='"Liberation Sans", sans-serif' font-weight="bold" fill="#000">30</text>
<text transform="translate(981.20 572.86) scale(1.0000 1)" font-size="33.30" font-family='"Liberation Sans", sans-serif' font-weight="bold" fill="#000">40</text>
<text transform="translate(981.20 468.46) scale(1.0000 1)" font-size="33.30" font-family='"Liberation Sans", sans-serif' font-weight="bold" fill="#000">50</text>
<line x1="1086.30" y1="978.00" x2="1086.30" y2="991.20" stroke="#000" stroke-width="4.30" stroke-linecap="butt"/>
<line x1="1204.85" y1="978.00" x2="1204.85" y2="991.20" stroke="#000" stroke-width="4.30" stroke-linecap="butt"/>
<line x1="1323.40" y1="978.00" x2="1323.40" y2="991.20" stroke="#000" stroke-width="4.30" stroke-linecap="butt"/>
<line x1="1441.95" y1="978.00" x2="1441.95" y2="991.20" stroke="#000" stroke-width="4.30" stroke-linecap="butt"/>
<line x1="1065.15" y1="843.32" x2="1065.15" y2="850.59" stroke="#000" stroke-width="3.00" stroke-linecap="butt"/>
<line x1="1057.85" y1="843.32" x2="1072.45" y2="843.32" stroke="#000" stroke-width="3.00" stroke-linecap="butt"/>
<rect x="1050.50" y="849.59" width="29.30" height="128.41" fill="#000"/>
<line x1="1183.70" y1="870.47" x2="1183.70" y2="874.60" stroke="#000" stroke-width="3.00" stroke-linecap="butt"/>
<line x1="1176.40" y1="870.47" x2="1191.00" y2="870.47" stroke="#000" stroke-width="3.00" stroke-linecap="butt"/>
<rect x="1169.05" y="873.60" width="29.30" height="104.40" fill="#000"/>
<line x1="1302.25" y1="525.95" x2="1302.25" y2="630.30" stroke="#000" stroke-width="3.00" stroke-linecap="butt"/>
<line x1="1294.95" y1="525.95" x2="1309.55" y2="525.95" stroke="#000" stroke-width="3.00" stroke-linecap="butt"/>
<rect x="1287.60" y="629.30" width="29.30" height="348.70" fill="#000"/>
<line x1="1420.80" y1="472.70" x2="1420.80" y2="525.90" stroke="#000" stroke-width="3.00" stroke-linecap="butt"/>
<line x1="1413.50" y1="472.70" x2="1428.10" y2="472.70" stroke="#000" stroke-width="3.00" stroke-linecap="butt"/>
<rect x="1406.15" y="524.90" width="29.30" height="453.10" fill="#000"/>
<line x1="1109.15" y1="850.63" x2="1109.15" y2="860.51" stroke="#000" stroke-width="3.00" stroke-linecap="butt"/>
<line x1="1101.85" y1="850.63" x2="1116.45" y2="850.63" stroke="#000" stroke-width="3.00" stroke-linecap="butt"/>
<rect x="1096.05" y="861.16" width="26.20" height="115.19" fill="#d3d3d3" stroke="#000" stroke-width="3.30"/>
<line x1="1227.70" y1="864.20" x2="1227.70" y2="874.60" stroke="#000" stroke-width="3.00" stroke-linecap="butt"/>
<line x1="1220.40" y1="864.20" x2="1235.00" y2="864.20" stroke="#000" stroke-width="3.00" stroke-linecap="butt"/>
<rect x="1214.60" y="875.25" width="26.20" height="101.10" fill="#d3d3d3" stroke="#000" stroke-width="3.30"/>
<line x1="1346.25" y1="686.72" x2="1346.25" y2="718.00" stroke="#000" stroke-width="3.00" stroke-linecap="butt"/>
<line x1="1338.95" y1="686.72" x2="1353.55" y2="686.72" stroke="#000" stroke-width="3.00" stroke-linecap="butt"/>
<rect x="1333.15" y="718.65" width="26.20" height="257.70" fill="#d3d3d3" stroke="#000" stroke-width="3.30"/>
<line x1="1464.80" y1="753.54" x2="1464.80" y2="770.20" stroke="#000" stroke-width="3.00" stroke-linecap="butt"/>
<line x1="1457.50" y1="753.54" x2="1472.10" y2="753.54" stroke="#000" stroke-width="3.00" stroke-linecap="butt"/>
<rect x="1451.70" y="770.85" width="26.20" height="205.50" fill="#d3d3d3" stroke="#000" stroke-width="3.30"/>
<text transform="translate(1286.36 510.33) scale(1.0000 1)" font-size="36.50" font-family='"Liberation Sans", sans-serif' font-weight="bold" fill="#000">*</text>
<text transform="translate(1303.36 510.33) scale(1.0000 1)" font-size="36.50" font-family='"Liberation Sans", sans-serif' font-weight="bold" fill="#000">*</text>
<text transform="translate(1338.26 671.53) scale(1.0000 1)" font-size="36.50" font-family='"Liberation Sans", sans-serif' font-weight="bold" fill="#000">*</text>
<text transform="translate(1403.46 462.93) scale(1.0000 1)" font-size="36.50" font-family='"Liberation Sans", sans-serif' font-weight="bold" fill="#000">*</text>
<text transform="translate(1420.46 462.93) scale(1.0000 1)" font-size="36.50" font-family='"Liberation Sans", sans-serif' font-weight="bold" fill="#000">*</text>
<text transform="translate(1457.16 741.53) scale(1.0000 1)" font-size="36.50" font-family='"Liberation Sans", sans-serif' font-weight="bold" fill="#000">*</text>
<text transform="translate(910.20 855.77) rotate(-90) scale(1.0000 1)" font-size="33.30" font-family='"Liberation Sans", sans-serif' font-weight="bold">TCA accumulation</text>
<text transform="translate(949.60 851.22) rotate(-90) scale(1.0000 1)" font-size="33.10" font-family='"Liberation Sans", sans-serif' font-weight="bold">(pmol/mg protein)</text>
<text transform="translate(2.24 1035.30) scale(0.9770 1)" font-size="33.50" font-family='"Liberation Sans", sans-serif' font-weight="bold" fill="#000">DEX</text>
<text transform="translate(79.26 1035.30) scale(1.0000 1)" font-size="33.50" font-family='"Liberation Sans", sans-serif' font-weight="bold" fill="#000">(</text>
<polygon points="103.60,1035.30 103.60,1011.92 99.98,1011.92 99.28,1013.52 97.20,1015.53 94.86,1017.04 92.44,1018.05 92.44,1022.03 95.19,1020.96 97.20,1019.96 98.81,1018.95 98.81,1035.30" fill="#000"/>
<g fill="#000"><rect x="111.3" y="1019.7" width="3.6" height="15.0"/><polygon points="111.5,1034 114.8,1034 114.1,1039 113.9,1041 111.0,1040.5"/><circle cx="112.5" cy="1040.2" r="1.9"/><rect x="121.1" y="1019.7" width="3.7" height="12.5"/></g><path d="M113.3 1029.5 Q114.2 1035.6 118.2 1034.6 Q121.2 1033.8 122.9 1029.8" fill="none" stroke="#000" stroke-width="2.6"/><path d="M122.9 1030.5 Q123.6 1035.4 126.2 1034.4 Q127.4 1033.8 127.9 1030.8" fill="none" stroke="#000" stroke-width="2.4"/>
<text transform="translate(128.12 1035.30) scale(1.0300 1)" font-size="33.50" font-family='"Liberation Sans", sans-serif' font-weight="bold" fill="#000">M</text>
<text transform="translate(157.79 1035.30) scale(1.0000 1)" font-size="33.50" font-family='"Liberation Sans", sans-serif' font-weight="bold" fill="#000">)</text>
<text transform="translate(0.57 1085.60) scale(0.9640 1)" font-size="33.50" font-family='"Liberation Sans", sans-serif' font-weight="bold" fill="#000">DMSO (%)</text>
<text transform="translate(0.55 1130.40) scale(0.9820 1)" font-size="33.50" font-family='"Liberation Sans", sans-serif' font-weight="bold" fill="#000">Overlay</text>
<text transform="translate(2.81 1174.20) scale(0.9900 1)" font-size="33.50" font-family='"Liberation Sans", sans-serif' font-weight="bold" fill="#000">BEI (%)</text>
<text transform="translate(234.88 1034.80) scale(1.0000 1)" font-size="33.50" font-family='"Liberation Sans", sans-serif' font-weight="bold" fill="#000">+</text>
<text transform="translate(346.78 1034.80) scale(1.0000 1)" font-size="33.50" font-family='"Liberation Sans", sans-serif' font-weight="bold" fill="#000">+</text>
<text transform="translate(458.48 1034.80) scale(1.0000 1)" font-size="33.50" font-family='"Liberation Sans", sans-serif' font-weight="bold" fill="#000">+</text>
<text transform="translate(570.58 1034.80) scale(1.0000 1)" font-size="33.50" font-family='"Liberation Sans", sans-serif' font-weight="bold" fill="#000">+</text>
<text transform="translate(682.38 1034.80) scale(1.0000 1)" font-size="33.50" font-family='"Liberation Sans", sans-serif' font-weight="bold" fill="#000">+</text>
<text transform="translate(785.28 1034.80) scale(1.0000 1)" font-size="33.50" font-family='"Liberation Sans", sans-serif' font-weight="bold" fill="#000">+</text>
<line x1="231.90" y1="1077.00" x2="269.70" y2="1077.00" stroke="#000" stroke-width="2.00" stroke-linecap="butt"/>
<text transform="translate(333.00 1086.00) scale(1.0000 1)" font-size="33.50" font-family='"Liberation Sans", sans-serif' font-weight="bold" fill="#000">0.25</text>
<text transform="translate(453.42 1086.00) scale(1.0000 1)" font-size="33.50" font-family='"Liberation Sans", sans-serif' font-weight="bold" fill="#000">0.5</text>
<polygon points="573.81,1086.00 573.81,1062.62 570.20,1062.62 569.49,1064.22 567.42,1066.23 565.07,1067.74 562.66,1068.75 562.66,1072.73 565.41,1071.66 567.42,1070.66 569.02,1069.65 569.02,1086.00" fill="#000"/>
<text transform="translate(579.35 1086.00) scale(1.0000 1)" font-size="33.50" font-family='"Liberation Sans", sans-serif' font-weight="bold" fill="#000">.0</text>
<polygon points="686.20,1086.00 686.20,1062.62 682.58,1062.62 681.88,1064.22 679.80,1066.23 677.45,1067.74 675.04,1068.75 675.04,1072.73 677.79,1071.66 679.80,1070.66 681.41,1069.65 681.41,1086.00" fill="#000"/>
<text transform="translate(691.73 1086.00) scale(1.0000 1)" font-size="33.50" font-family='"Liberation Sans", sans-serif' font-weight="bold" fill="#000">.5</text>
<polygon points="788.45,1086.00 788.45,1062.62 784.83,1062.62 784.13,1064.22 782.05,1066.23 779.70,1067.74 777.29,1068.75 777.29,1072.73 780.04,1071.66 782.05,1070.66 783.66,1069.65 783.66,1086.00" fill="#000"/>
<text transform="translate(793.98 1086.00) scale(1.0000 1)" font-size="33.50" font-family='"Liberation Sans", sans-serif' font-weight="bold" fill="#000">.8</text>
<text transform="translate(240.58 1130.00) scale(1.0000 1)" font-size="33.50" font-family='"Liberation Sans", sans-serif' font-weight="bold" fill="#000">+</text>
<text transform="translate(345.78 1130.00) scale(1.0000 1)" font-size="33.50" font-family='"Liberation Sans", sans-serif' font-weight="bold" fill="#000">+</text>
<text transform="translate(457.48 1130.00) scale(1.0000 1)" font-size="33.50" font-family='"Liberation Sans", sans-serif' font-weight="bold" fill="#000">+</text>
<text transform="translate(569.58 1130.00) scale(1.0000 1)" font-size="33.50" font-family='"Liberation Sans", sans-serif' font-weight="bold" fill="#000">+</text>
<text transform="translate(681.78 1130.00) scale(1.0000 1)" font-size="33.50" font-family='"Liberation Sans", sans-serif' font-weight="bold" fill="#000">+</text>
<text transform="translate(784.28 1130.00) scale(1.0000 1)" font-size="33.50" font-family='"Liberation Sans", sans-serif' font-weight="bold" fill="#000">+</text>
<text transform="translate(237.46 1174.40) scale(1.0000 1)" font-size="33.50" font-family='"Liberation Sans", sans-serif' font-weight="bold" fill="#000">22</text>
<text transform="translate(347.86 1174.40) scale(1.0000 1)" font-size="33.50" font-family='"Liberation Sans", sans-serif' font-weight="bold" fill="#000">53</text>
<text transform="translate(448.72 1174.40) scale(1.0000 1)" font-size="33.50" font-family='"Liberation Sans", sans-serif' font-weight="bold" fill="#000">62</text>
<text transform="translate(558.62 1174.40) scale(1.0000 1)" font-size="33.50" font-family='"Liberation Sans", sans-serif' font-weight="bold" fill="#000">62</text>
<text transform="translate(668.61 1174.40) scale(1.0000 1)" font-size="33.50" font-family='"Liberation Sans", sans-serif' font-weight="bold" fill="#000">44</text>
<text transform="translate(779.06 1174.40) scale(1.0000 1)" font-size="33.50" font-family='"Liberation Sans", sans-serif' font-weight="bold" fill="#000">35</text>
<line x1="1071.50" y1="1022.70" x2="1108.80" y2="1022.70" stroke="#000" stroke-width="2.00" stroke-linecap="butt"/>
<line x1="1188.90" y1="1022.70" x2="1225.90" y2="1022.70" stroke="#000" stroke-width="2.00" stroke-linecap="butt"/>
<text transform="translate(1317.28 1031.10) scale(1.0000 1)" font-size="33.50" font-family='"Liberation Sans", sans-serif' font-weight="bold" fill="#000">+</text>
<text transform="translate(1438.68 1031.10) scale(1.0000 1)" font-size="33.50" font-family='"Liberation Sans", sans-serif' font-weight="bold" fill="#000">+</text>
<line x1="1071.50" y1="1070.80" x2="1108.20" y2="1070.80" stroke="#000" stroke-width="2.00" stroke-linecap="butt"/>
<line x1="1187.70" y1="1070.80" x2="1225.00" y2="1070.80" stroke="#000" stroke-width="2.00" stroke-linecap="butt"/>
<line x1="1305.10" y1="1070.80" x2="1342.10" y2="1070.80" stroke="#000" stroke-width="2.00" stroke-linecap="butt"/>
<text transform="translate(1424.12 1079.20) scale(1.0000 1)" font-size="33.50" font-family='"Liberation Sans", sans-serif' font-weight="bold" fill="#000">0.5</text>
<line x1="1071.50" y1="1113.80" x2="1108.80" y2="1113.80" stroke="#000" stroke-width="2.00" stroke-linecap="butt"/>
<text transform="translate(1200.18 1122.20) scale(1.0000 1)" font-size="33.50" font-family='"Liberation Sans", sans-serif' font-weight="bold" fill="#000">+</text>
<text transform="translate(1321.78 1122.20) scale(1.0000 1)" font-size="33.50" font-family='"Liberation Sans", sans-serif' font-weight="bold" fill="#000">+</text>
<text transform="translate(1443.18 1122.20) scale(1.0000 1)" font-size="33.50" font-family='"Liberation Sans", sans-serif' font-weight="bold" fill="#000">+</text>
<line x1="1072.00" y1="1162.70" x2="1109.70" y2="1162.70" stroke="#000" stroke-width="2.00" stroke-linecap="butt"/>
<line x1="1189.20" y1="1162.70" x2="1226.50" y2="1162.70" stroke="#000" stroke-width="2.00" stroke-linecap="butt"/>
<text transform="translate(1308.56 1171.20) scale(1.0000 1)" font-size="33.50" font-family='"Liberation Sans", sans-serif' font-weight="bold" fill="#000">25</text>
<text transform="translate(1428.46 1171.20) scale(1.0000 1)" font-size="33.50" font-family='"Liberation Sans", sans-serif' font-weight="bold" fill="#000">54</text>
<rect x="306.40" y="1218.60" width="45.70" height="16.40" fill="#000"/>
<text transform="translate(386.18 1237.60) scale(0.9950 1)" font-size="29.30" font-family='"Liberation Sans", sans-serif' font-weight="bold" fill="#000">Standard HBSS buffer (Cells+Bile)</text>
<rect x="904.90" y="1221.80" width="41.90" height="12.10" fill="#d3d3d3" stroke="#000" stroke-width="3.60"/>
<text transform="translate(982.53 1241.00) scale(0.9700 1)" font-size="29.30" font-family='"Liberation Sans", sans-serif' font-weight="bold" fill="#000">Ca</text>
<text transform="translate(1020.13 1227.90) scale(1.0000 1)" font-size="22.60" font-family='"Liberation Sans", sans-serif' font-weight="bold" fill="#000">2</text>
<text transform="translate(1032.45 1227.46) scale(1.0000 1)" font-size="22.60" font-family='"Liberation Sans", sans-serif' font-weight="bold" fill="#000">+</text>
<text transform="translate(1045.96 1241.00) scale(1.0000 1)" font-size="29.30" font-family='"Liberation Sans", sans-serif' font-weight="bold" fill="#000">-free HBSS buffer (Cells)</text>
</svg>
</body></html>
